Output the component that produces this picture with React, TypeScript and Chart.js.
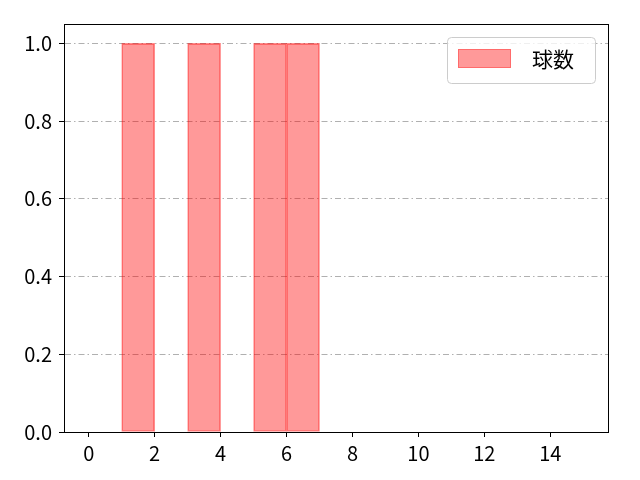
import React, { useEffect, useRef } from 'react';
import { Chart, registerables } from 'chart.js';

Chart.register(...registerables);

// histogram bins (width 1) and counts per bin
const binEdges = [0, 1, 2, 3, 4, 5, 6, 7, 8, 9, 10, 11, 12, 13, 14, 15];
const counts = [0, 1, 0, 1, 0, 1, 1, 0, 0, 0, 0, 0, 0, 0, 0];
const xTicks = [0, 2, 4, 6, 8, 10, 12, 14];
const yTicks = [0, 0.2, 0.4, 0.6, 0.8, 1.0];
const seriesLabel = '球数';

const FONT = "'Noto Sans CJK JP', 'Noto Sans', sans-serif";

// frame around the plot + legend box inside the plot
const framePlugin = {
  id: 'frame',
  afterDraw(chart: any) {
    const { ctx, chartArea } = chart;
    const { left, top, right, bottom } = chartArea;
    ctx.save();
    ctx.strokeStyle = '#000';
    ctx.lineWidth = 1;
    ctx.strokeRect(left + 0.5, top + 0.5, right - left, bottom - top);

    // legend
    const bx = right - 161;
    const by = top + 13;
    const bw = 148;
    const bh = 46;
    ctx.beginPath();
    ctx.roundRect(bx + 0.5, by + 0.5, bw, bh, 4);
    ctx.fillStyle = 'rgba(255,255,255,0.8)';
    ctx.fill();
    ctx.strokeStyle = '#cccccc';
    ctx.stroke();
    ctx.fillStyle = 'rgba(255,0,0,0.4)';
    ctx.fillRect(bx + 11, by + 12, 53, 19);
    ctx.strokeStyle = 'rgba(255,0,0,0.3)';
    ctx.strokeRect(bx + 11.5, by + 12.5, 52, 18);
    ctx.fillStyle = '#000';
    ctx.font = `21px ${FONT}`;
    ctx.textBaseline = 'middle';
    ctx.textAlign = 'left';
    ctx.fillText(seriesLabel, bx + 85, by + 22);
    ctx.restore();
  },
};

const App: React.FC = () => {
  const chartRef = useRef<HTMLCanvasElement>(null);
  const chartInstance = useRef<Chart | null>(null);

  useEffect(() => {
    document.body.style.margin = '0';
    if (!chartRef.current) return;
    if (chartInstance.current) chartInstance.current.destroy();
    const ctx = chartRef.current.getContext('2d');
    if (!ctx) return;

    const points = counts.map((c, i) => ({ x: (binEdges[i] + binEdges[i + 1]) / 2, y: c }));

    chartInstance.current = new Chart(ctx, {
      type: 'bar',
      data: {
        datasets: [
          {
            label: seriesLabel,
            data: points as any,
            backgroundColor: 'rgba(255,0,0,0.4)',
            borderColor: 'rgba(255,0,0,0.45)',
            borderWidth: 1,
            borderSkipped: false,
            barPercentage: 1,
            categoryPercentage: 1,
          },
        ],
      },
      options: {
        animation: false,
        responsive: false,
        devicePixelRatio: 1,
        layout: { padding: { left: 0, right: 32, top: 24, bottom: 0 } },
        plugins: {
          legend: { display: false },
          tooltip: { enabled: false },
        },
        scales: {
          x: {
            type: 'linear',
            offset: false,
            min: -0.75,
            max: 15.75,
            afterBuildTicks: (scale: any) => {
              scale.ticks = xTicks.map((v) => ({ value: v }));
            },
            afterFit: (scale: any) => {
              scale.height = 48;
            },
            ticks: {
              color: '#000',
              font: { family: FONT, size: 20 },
              padding: 4,
              maxRotation: 0,
              autoSkip: false,
            },
            grid: {
              display: true,
              offset: false,
              drawOnChartArea: false,
              drawTicks: true,
              tickLength: 5,
              tickColor: '#000',
            },
            border: { display: true, color: '#000', width: 1 },
          },
          y: {
            min: 0,
            max: 1.05,
            afterBuildTicks: (scale: any) => {
              scale.ticks = yTicks.map((v) => ({ value: v }));
            },
            afterFit: (scale: any) => {
              scale.width = 64;
            },
            ticks: {
              color: '#000',
              font: { family: FONT, size: 20 },
              padding: 7,
              callback: (v: any) => Number(v).toFixed(1),
            },
            grid: {
              display: true,
              drawOnChartArea: true,
              drawTicks: true,
              tickLength: 5,
              color: '#b0b0b0',
              tickColor: '#000',
              lineWidth: 1,
              tickBorderDash: [],
            } as any,
            border: { display: true, color: '#000', width: 1, dash: [6, 3, 1.5, 3] },
          },
        },
      },
      plugins: [framePlugin],
    });

    return () => {
      if (chartInstance.current) {
        chartInstance.current.destroy();
        chartInstance.current = null;
      }
    };
  }, []);

  return (
    <div style={{ width: 640, height: 480 }}>
      <canvas ref={chartRef} width={640} height={480}></canvas>
    </div>
  );
};

export default App;
